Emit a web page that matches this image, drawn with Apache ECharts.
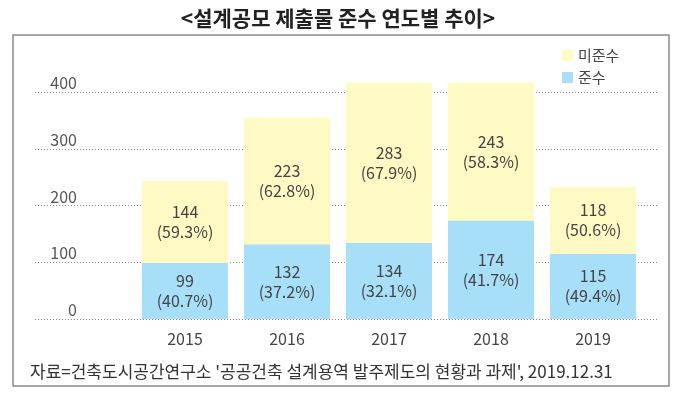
<!DOCTYPE html>
<html>
<head>
<meta charset="utf-8">
<script src="https://cdn.jsdelivr.net/npm/echarts@6/dist/echarts.min.js"></script>
<style>
html,body{margin:0;padding:0;background:#fff;}
#c{width:676px;height:395px;}
</style>
</head>
<body>
<div id="c"></div>
<script>
const years = ['2015', '2016', '2017', '2018', '2019'];
const compliant = [99, 132, 134, 174, 115];
const nonCompliant = [144, 223, 283, 243, 118];
const compliantPct = ['40.7', '37.2', '32.1', '41.7', '49.4'];
const nonCompliantPct = ['59.3', '62.8', '67.9', '58.3', '50.6'];
const yTicks = [0, 100, 200, 300, 400];

const FONT = '"Noto Sans CJK KR", "Noto Sans", sans-serif';
const chart = echarts.init(document.getElementById('c'), null, {renderer: 'canvas'});

const option = {
  backgroundColor: '#fff',
  animation: false,
  textStyle: {fontFamily: FONT},
  graphic: [
    {type: 'rect', shape: {x: 13, y: 35, width: 656, height: 351},
     style: {fill: 'none', stroke: '#8a8a8a', lineWidth: 1.5}, z: 0},
    {type: 'text', x: 338, y: 18,
     style: {text: '<설계공모 제출물 준수 연도별 추이>', fontFamily: FONT, fontSize: 21, fontWeight: 'bold',
             fill: '#222', align: 'center', verticalAlign: 'middle'}},
    {type: 'text', x: 30, y: 372,
     style: {text: "자료=건축도시공간연구소 '공공건축 설계용역 발주제도의 현황과 과제', 2019.12.31", fontFamily: FONT,
             fontSize: 17, fill: '#333', align: 'left', verticalAlign: 'middle'}}
  ],
  legend: {
    orient: 'vertical', left: 557, top: 43,
    itemWidth: 11, itemHeight: 11, itemGap: 7,
    data: ['미준수', '준수'],
    textStyle: {fontFamily: FONT, fontSize: 15, color: '#444'},
    icon: 'rect'
  },
  grid: [
    {left: 35, right: 18, top: 92.3, bottom: 76},
    {left: 134, right: 32, top: 35.7, bottom: 76}
  ],
  xAxis: [
    {gridIndex: 0, type: 'value', min: 0, max: 1, show: false},
    {gridIndex: 1, type: 'category', data: years,
     axisLine: {show: false}, axisTick: {show: false},
     axisLabel: {fontSize: 16, color: '#444', margin: 12, fontFamily: FONT}}
  ],
  yAxis: [
    {gridIndex: 0, type: 'value', min: yTicks[0], max: yTicks[yTicks.length - 1], interval: 100,
     axisLine: {show: false}, axisTick: {show: false},
     splitLine: {show: true, lineStyle: {color: '#888', type: [1, 2], width: 1}},
     axisLabel: {fontSize: 16, color: '#555', align: 'right', verticalAlign: 'bottom', margin: -42,
                 padding: [0, 0, 1, 0], fontFamily: FONT}},
    {gridIndex: 1, type: 'value', min: 0, max: 500, show: false}
  ],
  series: [
    {name: '준수', type: 'bar', stack: 'a', xAxisIndex: 1, yAxisIndex: 1, barWidth: 86,
     itemStyle: {color: '#a8dff8'}, data: compliant,
     label: {show: true, position: 'inside', color: '#444', fontSize: 16, lineHeight: 20, fontFamily: FONT,
             formatter: p => p.value + '\n(' + compliantPct[p.dataIndex] + '%)'}},
    {name: '미준수', type: 'bar', stack: 'a', xAxisIndex: 1, yAxisIndex: 1, barWidth: 86,
     itemStyle: {color: '#fff9c4'}, data: nonCompliant,
     label: {show: true, position: 'inside', color: '#444', fontSize: 16, lineHeight: 20, fontFamily: FONT,
             formatter: p => p.value + '\n(' + nonCompliantPct[p.dataIndex] + '%)'}}
  ]
};
chart.setOption(option);
</script>
</body>
</html>
